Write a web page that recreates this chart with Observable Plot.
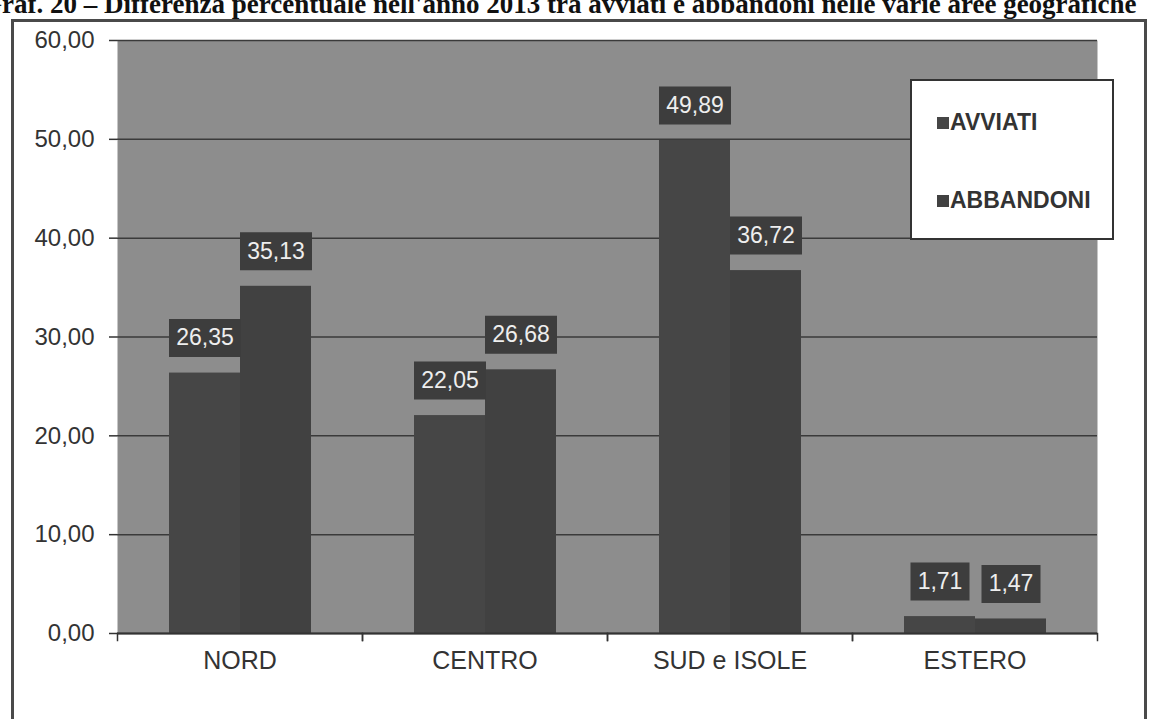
<!DOCTYPE html>
<html>
<head>
<meta charset="utf-8">
<script src="https://cdn.jsdelivr.net/npm/d3@7"></script>
<script src="https://cdn.jsdelivr.net/npm/@observablehq/plot@0.6"></script>
<style>
  html, body { margin: 0; padding: 0; background: #fff; overflow: hidden; width: 1156px; height: 719px; }
  #wrap { position: relative; width: 1156px; height: 719px; }
  #title { position: absolute; left: -19px; top: -9px; font: bold 27px "Liberation Serif", "Times New Roman", serif; line-height: 27px; white-space: nowrap; color: #111; }
  #border { position: absolute; left: 11px; top: 19px; width: 1136px; height: 720px; border: 3px solid #4a4a4a; border-bottom: none; box-sizing: border-box; }
  #chart { position: absolute; left: 0; top: 0; }
  #legend { position: absolute; left: 910px; top: 79px; width: 204px; height: 161px; background: #fff; border: 2px solid #333; box-sizing: border-box; font: bold 23px "Liberation Sans", Arial, sans-serif; color: #333; }
  .item { position: absolute; left: 25px; display: flex; align-items: center; }
  .sw { width: 12px; height: 12px; margin-right: 1px; }
</style>
</head>
<body>
<div id="wrap">
  <div id="title">Graf. 20 – Differenza percentuale nell'anno 2013 tra avviati e abbandoni nelle varie aree geografiche</div>
  <div id="border"></div>
  <div id="chart"></div>
  <div id="legend"></div>
</div>
<script>
const categories = ["NORD", "CENTRO", "SUD e ISOLE", "ESTERO"];
const series = ["AVVIATI", "ABBANDONI"];
const avviati = [26.35, 22.05, 49.89, 1.71];
const abbandoni = [35.13, 26.68, 36.72, 1.47];
const yTicks = [0, 10, 20, 30, 40, 50, 60];
const seriesColors = ["#464646", "#414141"];

const data = categories.flatMap((c, i) => [
  {cat: c, serie: series[0], v: avviati[i]},
  {cat: c, serie: series[1], v: abbandoni[i]}
]);
const fmt = v => v.toFixed(2).replace(".", ",");

const labelFont = "23px 'Liberation Sans', Arial, sans-serif";
const ctx = document.createElement("canvas").getContext("2d");
ctx.font = labelFont;
const boxW = d => Math.round(ctx.measureText(fmt(d.v)).width + 14);
const boxH = 38;
const labelDy = -35;
const widths = Array.from(new Set(data.map(boxW)));
const boxSymbol = w => ({draw(c) { c.rect(-w / 2, -boxH / 2, w, boxH); }});
const boxMarks = widths.map(w => Plot.dot(data.filter(d => boxW(d) === w), {
  fx: "cat", x: "serie", y: "v", dy: labelDy, r: 1, symbol: boxSymbol(w), fill: "#3d3d3d", stroke: "none"
}));

const marginTop = 40, marginBottom = 86, H = 719;
const plotH = H - marginTop - marginBottom;

const chart = Plot.plot({
  width: 1156,
  height: H,
  marginLeft: 116,
  marginRight: 58,
  marginTop,
  marginBottom,
  style: {fontFamily: "'Liberation Sans', Arial, sans-serif", background: "transparent", color: "#333"},
  fx: {domain: categories, padding: 0, label: null},
  x: {domain: series, paddingInner: 0, paddingOuter: 0.71, axis: null},
  y: {domain: [0, 60], axis: null},
  color: {domain: series, range: seriesColors},
  marks: [
    Plot.frame({fill: "#8d8d8d", facet: "super"}),
    Plot.gridY(yTicks, {stroke: "#3a3a3a", strokeOpacity: 1, strokeWidth: 1.5}),
    Plot.barY(data, {fx: "cat", x: "serie", y: "v", fill: "serie"}),
    ...boxMarks,
    Plot.text(data, {fx: "cat", x: "serie", y: "v", text: d => fmt(d.v), dy: labelDy, fill: "#eeeeee", fontSize: 23}),
    Plot.axisY({ticks: yTicks, tickFormat: fmt, tickSize: 8, tickPadding: 15, fontSize: 24, line: true, label: null, color: "#333", strokeWidth: 1.5}),
    Plot.axisY({anchor: "right", ticks: [], tickSize: 0, line: true, label: null, color: "#444"}),
    Plot.axisFx({anchor: "bottom", tickSize: 0, tickPadding: 18, fontSize: 25, label: null, color: "#333"}),
    Plot.ruleY([0], {stroke: "#333", strokeWidth: 2}),
    Plot.frame({anchor: "left", insetTop: plotH, insetBottom: -7, stroke: "#333", strokeWidth: 1.5}),
    Plot.frame({anchor: "right", insetTop: plotH, insetBottom: -7, stroke: "#333", strokeWidth: 1.5})
  ]
});
document.getElementById("chart").appendChild(chart);

const legend = document.getElementById("legend");
const legendTops = [28, 106];
series.forEach((s, i) => {
  const item = document.createElement("div");
  item.className = "item";
  item.style.top = legendTops[i] + "px";
  const sw = document.createElement("span");
  sw.className = "sw";
  sw.style.background = seriesColors[i];
  const t = document.createElement("span");
  t.textContent = s;
  item.appendChild(sw);
  item.appendChild(t);
  legend.appendChild(item);
});
</script>
</body>
</html>
